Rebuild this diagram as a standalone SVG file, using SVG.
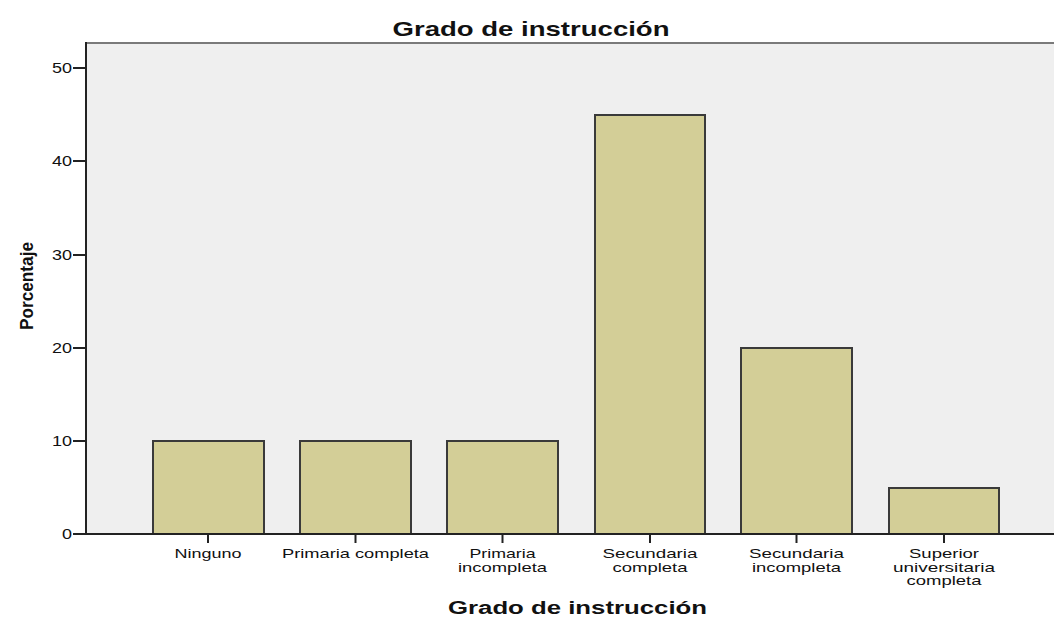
<svg xmlns="http://www.w3.org/2000/svg" width="1054" height="617" viewBox="0 0 1054 617">
<style>
.bar{fill:#d3ce97;stroke:#3a3a3a;stroke-width:2}
.tick{stroke:#222;stroke-width:2}
.t{font-family:"Liberation Sans",Arial,sans-serif;font-size:14px;fill:#111}
.x{font-size:13.5px}
.c{text-anchor:middle}
.b{font-weight:bold}
</style>
<rect width="1054" height="617" fill="#ffffff"/>
<g id="plot">
<rect x="86" y="43" width="970" height="491" fill="#efefef"/>
<line x1="86" y1="43" x2="1054" y2="43" stroke="#7a7a7a" stroke-width="2"/>
</g>
<g id="bars">
<rect id="bar-ninguno" class="bar" x="153" y="441" width="111" height="93"/>
<rect id="bar-primaria-completa" class="bar" x="300" y="441" width="111" height="93"/>
<rect id="bar-primaria-incompleta" class="bar" x="447" y="441" width="111" height="93"/>
<rect id="bar-secundaria-completa" class="bar" x="595" y="115" width="110" height="419"/>
<rect id="bar-secundaria-incompleta" class="bar" x="741" y="348" width="111" height="186"/>
<rect id="bar-superior" class="bar" x="889" y="488" width="110" height="46"/>
</g>
<g id="axes">
<line x1="86" y1="42" x2="86" y2="535" stroke="#222" stroke-width="2"/>
<line x1="85" y1="534" x2="1054" y2="534" stroke="#222" stroke-width="2"/>
<line class="tick" x1="73" y1="68" x2="86" y2="68"/>
<line class="tick" x1="73" y1="161" x2="86" y2="161"/>
<line class="tick" x1="73" y1="255" x2="86" y2="255"/>
<line class="tick" x1="73" y1="348" x2="86" y2="348"/>
<line class="tick" x1="73" y1="441" x2="86" y2="441"/>
<line class="tick" x1="73" y1="534" x2="86" y2="534"/>
<line class="tick" x1="208" y1="534" x2="208" y2="543"/>
<line class="tick" x1="355.5" y1="534" x2="355.5" y2="543"/>
<line class="tick" x1="502.5" y1="534" x2="502.5" y2="543"/>
<line class="tick" x1="650" y1="534" x2="650" y2="543"/>
<line class="tick" x1="796.5" y1="534" x2="796.5" y2="543"/>
<line class="tick" x1="944" y1="534" x2="944" y2="543"/>
</g>
<g id="y-labels" class="t">
<text x="52" y="73" textLength="20" lengthAdjust="spacingAndGlyphs">50</text>
<text x="52" y="166" textLength="20" lengthAdjust="spacingAndGlyphs">40</text>
<text x="52" y="260" textLength="20" lengthAdjust="spacingAndGlyphs">30</text>
<text x="52" y="353" textLength="20" lengthAdjust="spacingAndGlyphs">20</text>
<text x="52" y="446" textLength="20" lengthAdjust="spacingAndGlyphs">10</text>
<text x="62" y="539" textLength="10" lengthAdjust="spacingAndGlyphs">0</text>
</g>
<g id="x-labels" class="t x c">
<text x="208" y="558" textLength="67" lengthAdjust="spacingAndGlyphs">Ninguno</text>
<text x="355.5" y="558" textLength="147" lengthAdjust="spacingAndGlyphs">Primaria completa</text>
<text x="502.5" y="558" textLength="66" lengthAdjust="spacingAndGlyphs">Primaria</text>
<text x="502.5" y="571.5" textLength="89" lengthAdjust="spacingAndGlyphs">incompleta</text>
<text x="650" y="558" textLength="95" lengthAdjust="spacingAndGlyphs">Secundaria</text>
<text x="650" y="571.5" textLength="75" lengthAdjust="spacingAndGlyphs">completa</text>
<text x="796.5" y="558" textLength="95" lengthAdjust="spacingAndGlyphs">Secundaria</text>
<text x="796.5" y="571.5" textLength="89" lengthAdjust="spacingAndGlyphs">incompleta</text>
<text x="944" y="558" textLength="70" lengthAdjust="spacingAndGlyphs">Superior</text>
<text x="944" y="571.5" textLength="102" lengthAdjust="spacingAndGlyphs">universitaria</text>
<text x="944" y="584.5" textLength="75" lengthAdjust="spacingAndGlyphs">completa</text>
</g>
<g id="titles" class="t b">
<text x="531" y="36" class="c" style="font-size:21px" textLength="277" lengthAdjust="spacingAndGlyphs">Grado de instrucción</text>
<text x="577.5" y="614" class="c" style="font-size:18px" textLength="259" lengthAdjust="spacingAndGlyphs">Grado de instrucción</text>
<text transform="translate(33,286) rotate(-90)" class="c" style="font-size:18px" textLength="88" lengthAdjust="spacingAndGlyphs">Porcentaje</text>
</g>
</svg>
